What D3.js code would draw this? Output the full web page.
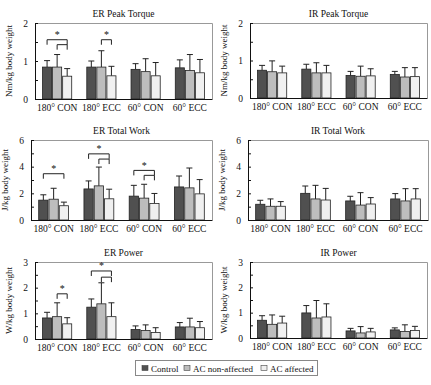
<!DOCTYPE html>
<html>
<head>
<meta charset="utf-8">
<script src="https://cdn.jsdelivr.net/npm/d3@7"></script>
<style>
  body { margin: 0; background: #fff; }
  text { font-family: "Liberation Serif", "DejaVu Serif", serif; fill: #111; }
</style>
</head>
<body>
<div class="draw-section"></div>
<script>
const categories = ['180\u00b0 CON', '180\u00b0 ECC', '60\u00b0 CON', '60\u00b0 ECC'];
const groups = ['Control', 'AC non-affected', 'AC affected'];

// means and SDs, one row per category, [control, non-affected, affected]
const erPeakTorque = [[0.84, 0.84, 0.60], [0.84, 0.84, 0.61], [0.78, 0.72, 0.61], [0.82, 0.75, 0.69]];
const erPeakTorqueSD = [[0.17, 0.33, 0.20], [0.16, 0.43, 0.25], [0.15, 0.34, 0.35], [0.21, 0.42, 0.35]];
const irPeakTorque = [[0.74, 0.70, 0.67], [0.77, 0.67, 0.67], [0.60, 0.58, 0.59], [0.63, 0.56, 0.57]];
const irPeakTorqueSD = [[0.13, 0.29, 0.18], [0.13, 0.27, 0.20], [0.11, 0.27, 0.19], [0.08, 0.25, 0.24]];
const erTotalWork = [[1.49, 1.56, 1.07], [2.33, 2.56, 1.59], [1.79, 1.64, 1.24], [2.48, 2.41, 1.96]];
const erTotalWorkSD = [[0.40, 0.82, 0.27], [0.60, 1.41, 0.72], [0.81, 1.04, 0.75], [0.82, 1.49, 1.07]];
const irTotalWork = [[1.18, 1.03, 1.03], [2.00, 1.58, 1.50], [1.43, 1.12, 1.20], [1.58, 1.43, 1.58]];
const irTotalWorkSD = [[0.30, 0.55, 0.35], [0.55, 1.02, 0.87], [0.35, 0.93, 0.48], [0.40, 0.92, 0.77]];
const erPower = [[0.82, 0.87, 0.59], [1.24, 1.37, 0.87], [0.37, 0.33, 0.25], [0.47, 0.47, 0.44]];
const erPowerSD = [[0.22, 0.54, 0.24], [0.32, 0.82, 0.54], [0.14, 0.22, 0.19], [0.17, 0.34, 0.24]];
const irPower = [[0.70, 0.54, 0.59], [0.99, 0.79, 0.83], [0.28, 0.20, 0.24], [0.32, 0.26, 0.30]];
const irPowerSD = [[0.18, 0.37, 0.27], [0.29, 0.69, 0.52], [0.10, 0.25, 0.14], [0.08, 0.26, 0.16]];

// significance brackets: category, from bar, to bar, height (data units), star?
const erPeakTorqueSig = [
  { cat: 0, from: 0, to: 2, at: 1.56, star: true },
  { cat: 0, from: 1, to: 2, at: 1.43, star: false },
  { cat: 1, from: 1, to: 2, at: 1.56, star: true }
];
const erTotalWorkSig = [
  { cat: 0, from: 0, to: 2, at: 3.47, star: true },
  { cat: 1, from: 0, to: 2, at: 4.96, star: true },
  { cat: 1, from: 1, to: 2, at: 4.57, star: false },
  { cat: 2, from: 0, to: 2, at: 3.72, star: true },
  { cat: 2, from: 1, to: 2, at: 3.35, star: false }
];
const erPowerSig = [
  { cat: 0, from: 1, to: 2, at: 1.76, star: true },
  { cat: 1, from: 0, to: 2, at: 2.65, star: true },
  { cat: 1, from: 1, to: 2, at: 2.41, star: false }
];

const fills = ['#505050', '#bdbdbd', '#f0f0f0'];

const panels = [
  { title: 'ER Peak Torque', unit: 'Nm/kg body weight', mean: erPeakTorque, sd: erPeakTorqueSD, sig: erPeakTorqueSig,
    max: 2, minor: 0.5, major: 1, box: [35, 212, 23, 99] },
  { title: 'IR Peak Torque', unit: 'Nm/kg body weight', mean: irPeakTorque, sd: irPeakTorqueSD, sig: [],
    max: 2, minor: 0.5, major: 1, box: [250, 427, 23, 98] },
  { title: 'ER Total Work', unit: 'J/kg body weight', mean: erTotalWork, sd: erTotalWorkSD, sig: erTotalWorkSig,
    max: 6, minor: 1, major: 2, box: [31, 212, 140, 220] },
  { title: 'IR Total Work', unit: 'J/kg body weight', mean: irTotalWork, sd: irTotalWorkSD, sig: [],
    max: 6, minor: 1, major: 2, box: [248, 428, 140, 220] },
  { title: 'ER Power', unit: 'W/kg body weight', mean: erPower, sd: erPowerSD, sig: erPowerSig,
    max: 3, minor: 0.5, major: 1, box: [35, 212, 262, 339] },
  { title: 'IR Power', unit: 'W/kg body weight', mean: irPower, sd: irPowerSD, sig: [],
    max: 3, minor: 0.5, major: 1, box: [250, 427, 262, 338] }
];

const svg = d3
  .select('.draw-section')
  .append('svg')
  .attr('width', 431)
  .attr('height', 385);

svg.append('rect').attr('width', 431).attr('height', 385).attr('fill', '#fff');

const drawPanel = function(p) {
  let [x0, x1, y0, y1] = p.box;
  let g = svg.append('g');

  let x = d3.scaleBand().domain(categories).range([x0, x1]).paddingInner(0).paddingOuter(0);
  let inner = d3.scaleBand().domain(d3.range(groups.length)).range([0, x.bandwidth()]).paddingOuter(0.7);
  let y = d3.scaleLinear().domain([0, p.max]).range([y1, y0]);

  // frame: grey top/right
  g.append('path')
    .attr('d', `M${x0},${y0 + 0.5}H${x1 + 0.5}V${y1}`)
    .attr('fill', 'none')
    .attr('stroke', '#999')
    .attr('stroke-width', 1);

  // bars
  let bars = g.append('g');
  categories.forEach((c, ci) => {
    groups.forEach((gname, gi) => {
      let bx = x(c) + inner(gi);
      let bw = inner.bandwidth();
      let v = p.mean[ci][gi];
      let top = v + p.sd[ci][gi];
      let cx = bx + bw / 2;
      bars.append('line')
        .attr('x1', cx).attr('x2', cx)
        .attr('y1', y(v)).attr('y2', y(top))
        .attr('stroke', '#222').attr('stroke-width', 1);
      bars.append('line')
        .attr('x1', cx - 3).attr('x2', cx + 3)
        .attr('y1', y(top)).attr('y2', y(top))
        .attr('stroke', '#222').attr('stroke-width', 1);
      bars.append('rect')
        .attr('x', bx + 0.5)
        .attr('y', y(v))
        .attr('width', bw - 1)
        .attr('height', y(0) - y(v))
        .attr('fill', fills[gi])
        .attr('stroke', '#222')
        .attr('stroke-width', 0.8);
    });
  });

  // significance brackets
  p.sig.forEach(s => {
    let xa = x(categories[s.cat]) + inner(s.from) + inner.bandwidth() / 2;
    let xb = x(categories[s.cat]) + inner(s.to) + inner.bandwidth() / 2;
    let yy = y(s.at);
    g.append('path')
      .attr('d', `M${xa},${yy + 5}V${yy}H${xb}V${yy + 5}`)
      .attr('fill', 'none')
      .attr('stroke', '#222')
      .attr('stroke-width', 1);
    if (s.star) {
      g.append('text')
        .attr('x', (xa + xb) / 2)
        .attr('y', yy - 1.5)
        .attr('text-anchor', 'middle')
        .style('font-size', '10px')
        .text('*');
    }
  });

  // y axis with inward ticks
  let ticks = d3.range(0, p.max + 1e-9, p.minor);
  let yAxis = d3.axisLeft(y)
    .tickValues(ticks)
    .tickSize(-3)
    .tickPadding(7)
    .tickFormat(d => (Math.abs(d / p.major - Math.round(d / p.major)) < 1e-9 ? d3.format('d')(d) : ''));
  let ya = g.append('g').attr('transform', `translate(${x0},0)`).call(yAxis);
  ya.select('.domain').attr('stroke', '#111');
  ya.selectAll('.tick line').attr('stroke', '#111');
  ya.selectAll('text').style('font-size', '9.5px').attr('fill', '#111');

  // x axis
  let xAxis = d3.axisBottom(x).tickSize(0).tickPadding(5);
  let xa = g.append('g').attr('transform', `translate(0,${y1})`).call(xAxis);
  xa.select('.domain').attr('stroke', '#111');
  xa.selectAll('text').style('font-size', '9.5px').attr('fill', '#111');

  // title
  g.append('text')
    .attr('x', (x0 + x1) / 2)
    .attr('y', y0 - 6)
    .attr('text-anchor', 'middle')
    .style('font-size', '9.5px')
    .text(p.title);

  // unit label
  g.append('text')
    .attr('transform', `translate(${x0 - 23},${(y0 + y1) / 2}) rotate(-90)`)
    .attr('text-anchor', 'middle')
    .style('font-size', '9px')
    .text(p.unit);
};

panels.forEach(drawPanel);

// legend
let legend = svg.append('g');
legend.append('rect')
  .attr('x', 135.5).attr('y', 360.5)
  .attr('width', 182).attr('height', 15)
  .attr('fill', '#fff').attr('stroke', '#888');
const legendX = [142, 184, 261];
groups.forEach((name, i) => {
  legend.append('rect')
    .attr('x', legendX[i]).attr('y', 365.5)
    .attr('width', 6).attr('height', 5)
    .attr('fill', fills[i]).attr('stroke', '#444').attr('stroke-width', 0.6);
  legend.append('text')
    .attr('x', legendX[i] + 9).attr('y', 371.5)
    .style('font-size', '9px')
    .text(name);
});
</script>
</body>
</html>
